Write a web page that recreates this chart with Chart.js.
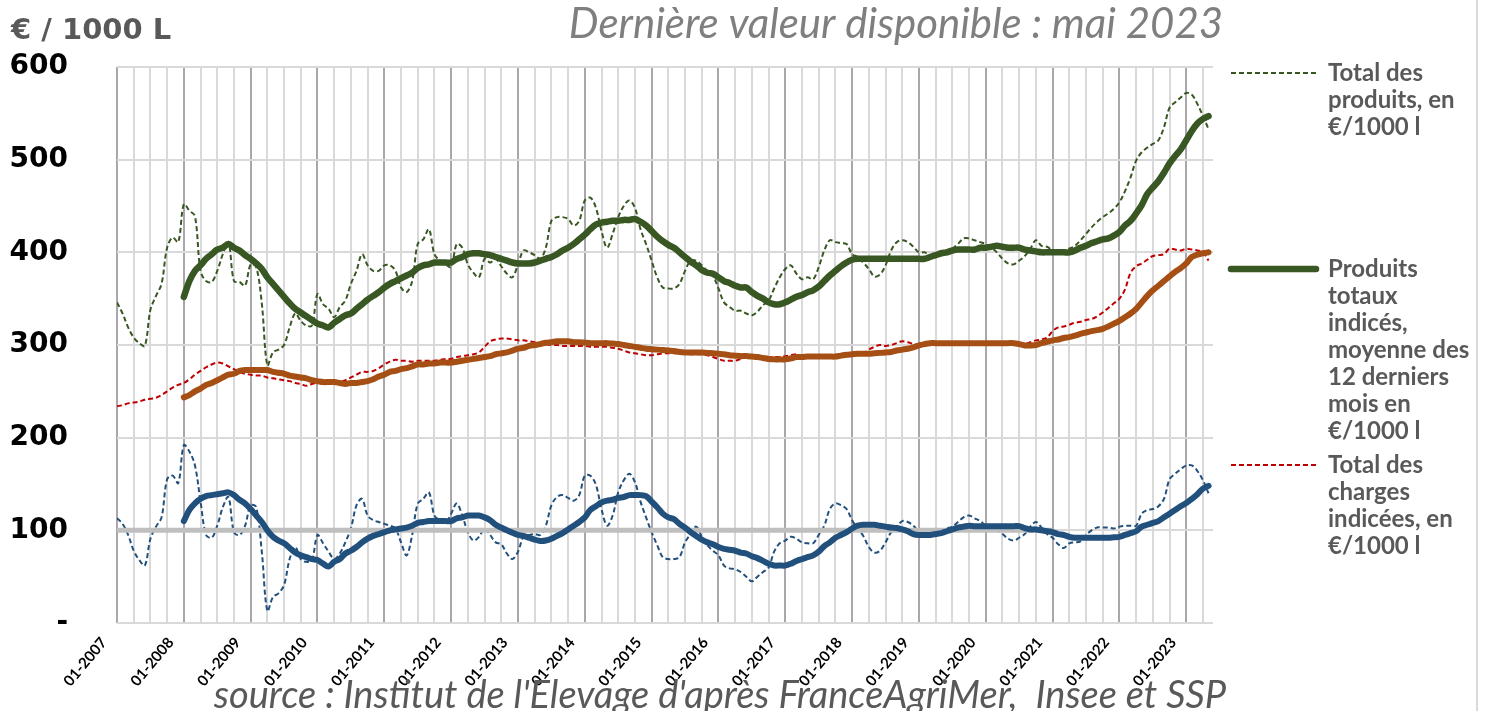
<!DOCTYPE html>
<html lang="fr">
<head>
<meta charset="utf-8">
<title>Produits et charges indicés en €/1000 l</title>
<script src="https://cdn.jsdelivr.net/npm/chart.js@4.4.1/dist/chart.umd.min.js"></script>
<style>
  html, body { margin: 0; padding: 0; background: #fff; }
  #graphe { display: block; }
</style>
</head>
<body>
<canvas id="graphe" width="1492" height="711"></canvas>
<script>
// Valeurs mensuelles. Mois 0 = 01-2007, dernier mois = 05-2023.
const etiquettesAnnees = ['01-2007', '01-2008', '01-2009', '01-2010', '01-2011', '01-2012', '01-2013', '01-2014',
    '01-2015', '01-2016', '01-2017', '01-2018', '01-2019', '01-2020', '01-2021', '01-2022', '01-2023'];
const ticksY = [0, 100, 200, 300, 400, 500, 600];

// les moyennes sur 12 mois commencent en 01-2008 (mois 12)
const debutMoyennes = 12;

const produitsTotal = [
    346, 334, 319, 308, 302, 299, 338, 353, 366, 405, 416, 411,
    452, 445, 439, 380, 369, 368, 380, 398, 411, 369, 368, 364,
    387, 384, 345, 278, 292, 295, 300, 319, 334, 326, 321, 321,
    355, 344, 339, 330, 341, 348, 366, 380, 398, 386, 380, 380,
    386, 386, 380, 362, 357, 369, 409, 414, 425, 398, 391, 387,
    384, 409, 405, 387, 378, 373, 393, 389, 393, 385, 377, 373,
    387, 402, 400, 397, 393, 405, 434, 438, 438, 436, 429, 434,
    456, 459, 448, 423, 405, 420, 438, 450, 456, 448, 425, 409,
    391, 373, 362, 361, 361, 366, 380, 391, 391, 386, 380, 375,
    361, 346, 341, 337, 337, 334, 332, 336, 343, 348, 361, 373,
    382, 386, 377, 371, 373, 371, 384, 402, 413, 411, 410, 409,
    398, 395, 389, 382, 374, 376, 386, 402, 411, 413, 411, 406,
    400, 400, 397, 397, 400, 402, 404, 409, 415, 415, 413, 411,
    409, 405, 400, 393, 388, 387, 391, 396, 404, 413, 407, 406,
    402, 402, 402, 404, 407, 413, 420, 427, 433, 438, 442, 447,
    454, 466, 481, 499, 508, 513, 517, 521, 535, 556, 562, 567,
    572, 570, 560, 547, 533
];

const produitsMoy12 = [
    352, 369, 380, 386, 393, 398, 403, 405, 409, 405, 402, 397,
    393, 388, 382, 373, 366, 359, 352, 345, 339, 335, 331, 327,
    323, 321, 319, 324, 328, 332, 334, 339, 344, 349, 353, 357,
    362, 366, 369, 372, 375, 378, 383, 386, 387, 389, 389, 389,
    389, 393, 395, 398, 399, 399, 398, 397, 395, 393, 391, 389,
    388, 388, 388, 389, 391, 393, 395, 398, 402, 405, 409, 414,
    419, 425, 430, 432, 433, 434, 434, 435, 435, 436, 433, 429,
    423, 417, 412, 408, 405, 400, 395, 390, 386, 381, 378, 377,
    373, 369, 367, 364, 362, 362, 357, 353, 350, 346, 344, 344,
    346, 349, 352, 354, 357, 359, 363, 369, 375, 380, 385, 389,
    392, 393, 393, 393, 393, 393, 393, 393, 393, 393, 393, 393,
    393, 393, 395, 397, 399, 400, 402, 403, 403, 403, 403, 405,
    405, 406, 407, 406, 405, 405, 405, 403, 402, 401, 400, 400,
    400, 400, 400, 400, 402, 405, 407, 410, 412, 414, 415, 418,
    422, 429, 434, 442, 451, 463, 470, 477, 486, 496, 504, 511,
    521, 531, 539, 544, 547
];

const chargesTotal = [
    234, 235, 237, 238, 239, 241, 242, 243, 246, 250, 254, 257,
    259, 263, 268, 272, 276, 279, 281, 280, 277, 274, 271, 269,
    268, 267, 267, 265, 264, 263, 262, 261, 259, 258, 256, 258,
    259, 259, 259, 260, 260, 262, 265, 268, 271, 271, 272, 275,
    279, 282, 284, 283, 283, 282, 283, 283, 283, 283, 284, 285,
    285, 287, 288, 289, 290, 292, 298, 304, 306, 307, 307, 306,
    305, 305, 304, 303, 302, 301, 300, 300, 299, 299, 299, 299,
    299, 298, 298, 298, 298, 297, 296, 294, 292, 291, 290, 289,
    289, 290, 291, 291, 291, 291, 291, 290, 290, 290, 289, 287,
    285, 283, 283, 283, 285, 287, 287, 287, 287, 287, 287, 287,
    288, 289, 290, 288, 287, 287, 287, 287, 287, 287, 287, 288,
    289, 290, 291, 295, 298, 300, 299, 300, 302, 304, 303, 301,
    300, 301, 302, 302, 302, 302, 302, 302, 302, 302, 302, 302,
    302, 302, 302, 302, 302, 301, 300, 301, 303, 305, 306, 308,
    315, 319, 320, 322, 324, 325, 327, 328, 331, 335, 340, 345,
    350, 360, 378, 385, 388, 392, 396, 397, 398, 404, 403, 402,
    404, 403, 402, 400, 391
];

const chargesMoy12 = [
    243.5, 246, 250, 253, 257, 259, 262, 265, 268, 269, 272, 273,
    273, 273, 273, 273, 271, 270, 269, 267, 266, 265, 264, 262,
    261, 260, 260, 260, 259, 258, 259, 259, 260, 261, 263, 266,
    268, 271, 272, 274, 275, 277, 279, 279, 280, 280, 281, 281,
    281, 282, 283, 284, 285, 286, 287, 288, 290, 291, 292, 294,
    296, 297, 299, 300, 301, 302.5, 303, 304, 304, 304, 303, 303,
    302.5, 302, 302, 302, 302, 301.5, 301, 300, 299, 298, 297, 296,
    295.5, 295, 294.5, 294, 293.5, 292.5, 292, 292, 292, 292, 291.5, 291,
    290.5, 290, 289, 288.5, 288, 288, 287.5, 287, 286, 285, 284.5, 284.5,
    284.5, 285.5, 287, 287, 287.5, 287.5, 287.5, 287.5, 287.5, 287.5, 288.5, 289.5,
    290, 290.5, 290.5, 290.5, 291, 291.5, 292, 292.5, 294, 295, 296, 297.5,
    299.5, 301, 302, 302, 302, 302, 302, 302, 302, 302, 302, 302,
    302, 302, 302, 302, 302, 302, 301, 299.5, 299.5, 300, 302, 303.5,
    305, 306, 307.5, 308.5, 310, 312, 313.5, 315, 316, 317.5, 320, 323,
    326, 330, 334, 339, 346, 353, 359, 364, 369, 374, 379, 383,
    388, 395, 397.5, 399, 400
];

const margeIndice = [
    113, 107, 95, 78, 68, 62, 91, 104, 114, 155, 159, 151,
    192, 185, 170, 131, 95, 92, 105, 125, 136, 98, 95, 105,
    127, 125, 77, 13, 28, 32, 41, 69, 82, 69, 66, 68,
    95, 86, 77, 69, 75, 87, 102, 127, 134, 116, 111, 109,
    107, 105, 102, 87, 73, 95, 129, 134, 141, 116, 111, 108,
    118, 129, 116, 98, 89, 93, 102, 95, 87, 85, 75, 69,
    77, 93, 95, 96, 95, 105, 127, 136, 138, 135, 132, 138,
    159, 159, 149, 123, 105, 116, 141, 154, 161, 152, 131, 114,
    98, 84, 71, 69, 69, 71, 87, 96, 104, 93, 84, 78,
    73, 62, 59, 58, 55, 50, 45, 50, 55, 60, 77, 86,
    89, 93, 91, 87, 86, 86, 95, 105, 123, 129, 127, 123,
    111, 102, 94, 82, 76, 78, 87, 98, 104, 110, 109, 105,
    98, 94, 93, 96, 99, 102, 104, 109, 114, 116, 113, 110,
    105, 102, 100, 96, 91, 89, 92, 96, 104, 109, 103, 96,
    92, 85, 81, 86, 87, 88, 95, 100, 103, 103, 103, 102,
    104, 105, 105, 105, 118, 122, 123, 126, 134, 155, 161, 166,
    170, 170, 164, 154, 140
];

const margeMoy12 = [
    110, 122, 129, 134, 137, 138, 139, 140, 141, 138, 133, 129,
    123, 116, 109, 100, 93, 89, 86, 81, 76, 73, 71, 69,
    68, 64, 61, 66, 69, 75, 78, 82, 87, 91, 94, 96,
    98, 100, 101, 102, 103, 105, 108, 109, 110, 110, 110, 110,
    110, 113, 114, 116, 116, 116, 114, 111, 106, 103, 100, 97.5,
    95, 94, 92, 90, 88.5, 89, 91, 94, 97, 101, 105, 109,
    114, 122, 126, 130, 132, 133, 135, 136, 138, 138, 138, 137,
    131, 125, 118, 114, 112, 107, 103, 98, 94, 90, 87, 85,
    82, 80, 79, 78, 76, 75, 72, 70, 67, 64, 62, 62,
    62, 64, 67, 69, 71, 73, 77, 83, 87, 92, 95, 98,
    102, 105, 106, 106, 106, 105, 104, 103, 102.5, 101, 99, 96,
    95, 95, 95, 96, 97, 99, 101, 103, 104, 105, 104.5, 104.5,
    104.5, 104.5, 104.5, 104.5, 104.5, 104.5, 104.5, 102.5, 101, 101, 100, 99,
    98, 96, 95, 93, 92, 92, 92, 92, 92, 92, 92, 92.5,
    93, 95, 97, 99, 104, 106, 108, 110, 114, 118, 122, 126,
    129.5, 134, 139, 145, 148
];

// ligne de référence à 100, de 01-2007 à 01-2021
const ligne100Mois = [0, 168];
const ligne100Valeurs = [100, 100];

const legendeProduits = ['Total des', 'produits, en', '€/1000 l'];
const legendeMoyenne = ['Produits', 'totaux', 'indicés,', 'moyenne des', '12 derniers', 'mois en', '€/1000 l'];
const legendeCharges = ['Total des', 'charges', 'indicées, en', '€/1000 l'];

const titreTexte = 'Dernière valeur disponible : mai 2023';
const uniteTexte = '€ / 1000 L';
const sourceTexte = "source : Institut de l'Elevage d'après FranceAgriMer,  Insee et SSP";

const VERT = '#385723';
const ORANGE = '#A64F15';
const ROUGE = '#C00000';
const BLEU = '#22507D';

const enPoints = (valeurs, debut) => valeurs.map((v, i) => ({ x: debut + i, y: v }));

const textesPlugin = {
    id: 'textes',
    afterDraw(chart) {
        const ctx = chart.ctx;
        ctx.save();

        ctx.fillStyle = '#595959';
        ctx.font = 'bold 29px "DejaVu Sans"';
        ctx.textAlign = 'left';
        ctx.textBaseline = 'alphabetic';
        ctx.fillText(uniteTexte, 11, 39);

        ctx.fillStyle = '#7F7F7F';
        ctx.font = 'italic 42px Lato';
        ctx.textAlign = 'center';
        ctx.fillText(titreTexte, 896, 38);

        ctx.fillStyle = '#595959';
        ctx.font = 'italic 38px Lato';
        ctx.fillText(sourceTexte, 720, 708);

        // bord droit du cadre
        ctx.strokeStyle = '#D9D9D9';
        ctx.lineWidth = 2;
        ctx.beginPath();
        ctx.moveTo(1477, 0);
        ctx.lineTo(1477, 711);
        ctx.stroke();

        // légende
        const items = [
            { ds: 0, lignes: legendeProduits, y: 73 },
            { ds: 1, lignes: legendeMoyenne, y: 269 },
            { ds: 2, lignes: legendeCharges, y: 465 }
        ];
        items.forEach(item => {
            const ds = chart.data.datasets[item.ds];
            ctx.strokeStyle = ds.borderColor;
            ctx.lineWidth = ds.borderWidth;
            ctx.setLineDash(ds.borderDash || []);
            ctx.lineCap = ds.borderDash ? 'butt' : 'round';
            ctx.beginPath();
            ctx.moveTo(1231, item.y);
            ctx.lineTo(1316, item.y);
            ctx.stroke();
            ctx.setLineDash([]);

            ctx.fillStyle = '#595959';
            ctx.font = 'bold 24px Lato';
            ctx.textAlign = 'left';
            ctx.textBaseline = 'middle';
            item.lignes.forEach((txt, k) => {
                ctx.fillText(txt, 1328, item.y + k * 27);
            });
        });
        ctx.restore();
    }
};

new Chart(document.getElementById('graphe'), {
    type: 'line',
    data: {
        datasets: [
            {
                label: 'Total des produits, en €/1000 l',
                data: enPoints(produitsTotal, 0),
                borderColor: VERT,
                borderWidth: 2,
                borderDash: [5, 3],
                order: 3
            },
            {
                label: 'Produits totaux indicés, moyenne des 12 derniers mois en €/1000 l',
                data: enPoints(produitsMoy12, debutMoyennes),
                borderColor: VERT,
                borderWidth: 6.5,
                borderCapStyle: 'round',
                order: 1
            },
            {
                label: 'Total des charges indicées, en €/1000 l',
                data: enPoints(chargesTotal, 0),
                borderColor: ROUGE,
                borderWidth: 2,
                borderDash: [5, 3],
                order: 3
            },
            {
                label: 'Charges, moyenne des 12 derniers mois',
                data: enPoints(chargesMoy12, debutMoyennes),
                borderColor: ORANGE,
                borderWidth: 6,
                borderCapStyle: 'round',
                order: 1
            },
            {
                label: 'Indice mensuel',
                data: enPoints(margeIndice, 0),
                borderColor: BLEU,
                borderWidth: 2,
                borderDash: [5, 3],
                order: 3
            },
            {
                label: 'Indice, moyenne des 12 derniers mois',
                data: enPoints(margeMoy12, debutMoyennes),
                borderColor: BLEU,
                borderWidth: 6,
                borderCapStyle: 'round',
                order: 1
            },
            {
                label: 'Référence 100',
                data: ligne100Mois.map((m, i) => ({ x: m, y: ligne100Valeurs[i] })),
                borderColor: '#BFBFBF',
                borderWidth: 5,
                tension: 0,
                order: 2
            }
        ]
    },
    options: {
        responsive: false,
        animation: false,
        devicePixelRatio: 1,
        layout: { padding: { top: 67, right: 279, left: 0, bottom: 0 } },
        elements: {
            point: { radius: 0 },
            line: { tension: 0.35, borderJoinStyle: 'round', fill: false }
        },
        plugins: {
            legend: { display: false },
            tooltip: { enabled: false }
        },
        scales: {
            x: {
                type: 'linear',
                min: 0,
                max: 196.8,
                afterBuildTicks: (scale) => {
                    const t = [];
                    for (let m = 0; m <= 195; m += 3) t.push({ value: m });
                    scale.ticks = t;
                },
                afterFit: (scale) => { scale.height = 88; },
                border: { display: false },
                grid: {
                    drawTicks: false,
                    lineWidth: 2,
                    color: (c) => (c.tick && c.tick.value % 12 === 0) ? '#ABA6AB' : '#D9D9D9'
                },
                ticks: {
                    autoSkip: false,
                    maxRotation: 50,
                    minRotation: 50,
                    padding: 11,
                    labelOffset: -13,
                    color: '#000',
                    font: { family: 'Lato', weight: 'bold', size: 15 },
                    callback: (v) => (v % 12 === 0) ? etiquettesAnnees[v / 12] : ''
                }
            },
            y: {
                min: 0,
                max: 600,
                afterBuildTicks: (scale) => { scale.ticks = ticksY.map(v => ({ value: v })); },
                afterFit: (scale) => { scale.width = 117; },
                border: { display: false },
                grid: { drawTicks: false, lineWidth: 2, color: '#D9D9D9' },
                ticks: {
                    padding: 49,
                    color: '#000',
                    font: { family: '"DejaVu Sans"', weight: 'bold', size: 28 },
                    callback: (v) => v === 0 ? '-' : v
                }
            }
        }
    },
    plugins: [textesPlugin]
});
</script>
</body>
</html>
